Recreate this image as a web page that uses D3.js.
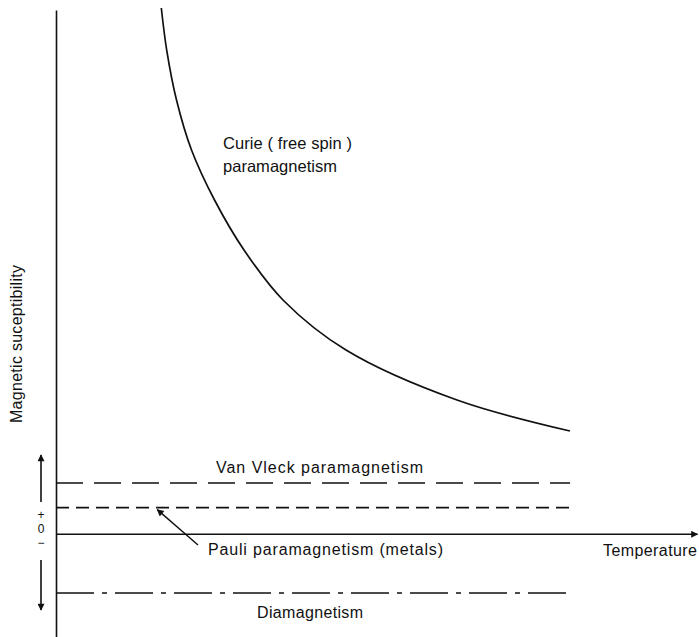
<!DOCTYPE html>
<html>
<head>
<meta charset="utf-8">
<script src="https://cdn.jsdelivr.net/npm/d3@7"></script>
<style>
  html, body { margin: 0; padding: 0; background: #fff; }
  svg { display: block; }
  text { font-family: "Liberation Sans", Arial, sans-serif; fill: #111; }
</style>
</head>
<body>
<svg id="chart" width="699" height="637"></svg>
<script>
// Curie (free spin) paramagnetism: susceptibility falls off roughly as 1/T
const curieT   = [16.43, 17.27, 18.80, 21.14, 24.73, 29.33, 35.41, 45.24, 62.56, 80.19];
const curieChi = [100.38, 92.36, 82.82, 73.27, 63.73, 54.18, 44.64, 35.09, 25.54, 19.62];

// Temperature-independent contributions (constant levels)
const levelNames  = ["Van Vleck paramagnetism", "Pauli paramagnetism (metals)", "Diamagnetism"];
const levelValues = [9.7, 5.0, -11.3];
const levelDashes = ["27,11", "13,7", "38,8,5,8"];
const levelTStart = 0;
const levelTEnd   = 80.2;

// Axis extents
const tDomain   = [0, 100];
const chiDomain = [-19.7, 100];
const axisTitles = ["Temperature", "Magnetic suceptibility"];
const signLabels = ["+", "0", "\u2212"];

const svg = d3.select("#chart");
const x = d3.scaleLinear().domain(tDomain).range([56, 697]);
const y = d3.scaleLinear().domain(chiDomain).range([637, 10]);
const ink = "#111";
const sw = 1.6;

// arrow head marker
const defs = svg.append("defs");
defs.append("marker")
  .attr("id", "head")
  .attr("viewBox", "0 0 10 10")
  .attr("refX", 9).attr("refY", 5)
  .attr("markerUnits", "userSpaceOnUse")
  .attr("markerWidth", 9).attr("markerHeight", 7)
  .attr("orient", "auto")
  .append("path").attr("d", "M0,0L10,5L0,10Z").attr("fill", ink);

// vertical (susceptibility) axis, no ticks
const yAxis = svg.append("g")
  .attr("transform", `translate(${x(0)},0)`)
  .call(d3.axisLeft(y).tickValues([]).tickSizeOuter(0));
yAxis.select(".domain").attr("stroke", ink).attr("stroke-width", sw);

// horizontal (temperature) axis at zero susceptibility, with arrow
const xAxis = svg.append("g")
  .attr("transform", `translate(0,${y(0)})`)
  .call(d3.axisBottom(x).tickValues([]).tickSizeOuter(0));
xAxis.select(".domain").attr("stroke", ink).attr("stroke-width", sw)
  .attr("marker-end", "url(#head)");

// constant levels
const lineGen = d3.line().x(d => x(d[0])).y(d => y(d[1]));
levelValues.forEach((v, i) => {
  svg.append("path")
    .attr("d", lineGen([[levelTStart, v], [levelTEnd, v]]))
    .attr("fill", "none")
    .attr("stroke", ink)
    .attr("stroke-width", sw)
    .attr("stroke-dasharray", levelDashes[i]);
});

// Curie curve
const curieData = curieT.map((t, i) => [t, curieChi[i]]);
svg.append("path")
  .attr("d", d3.line().x(d => x(d[0])).y(d => y(d[1])).curve(d3.curveCatmullRom.alpha(0.5))(curieData))
  .attr("fill", "none")
  .attr("stroke", ink)
  .attr("stroke-width", 1.7);

// labels
function label(txt, px, py, size, len) {
  return svg.append("text")
    .attr("x", px).attr("y", py)
    .attr("font-size", size)
    .attr("textLength", len)
    .attr("lengthAdjust", "spacing")
    .text(txt);
}
label("Curie ( free spin )", 223, 149, 16.5, 129);
label("paramagnetism", 223, 172, 16.5, 114);
label(levelNames[0], 216, 473, 16, 207);
label(levelNames[1], 208, 555, 16, 235);
label(levelNames[2], 257, 618, 16, 106);
label(axisTitles[0], 603, 556, 16, 94);

// vertical axis title
svg.append("text")
  .attr("transform", `translate(22,${(265 + 423) / 2}) rotate(-90)`)
  .attr("text-anchor", "middle")
  .attr("font-size", 16)
  .attr("textLength", 158)
  .attr("lengthAdjust", "spacing")
  .text(axisTitles[1]);

// pointer from the Pauli label to its line
svg.append("line")
  .attr("x1", 198).attr("y1", 545)
  .attr("x2", x(15.8)).attr("y2", y(levelValues[1]) + 2)
  .attr("stroke", ink).attr("stroke-width", 1.4)
  .attr("marker-end", "url(#head)");

// sign indicator on the susceptibility axis: up arrow, + 0 −, down arrow
const sx = 41;
svg.append("line")
  .attr("x1", sx).attr("y1", 502).attr("x2", sx).attr("y2", 455)
  .attr("stroke", ink).attr("stroke-width", sw).attr("marker-end", "url(#head)");
svg.append("line")
  .attr("x1", sx).attr("y1", 560).attr("x2", sx).attr("y2", 610)
  .attr("stroke", ink).attr("stroke-width", sw).attr("marker-end", "url(#head)");
const signY = [519, 533, 547];
signLabels.forEach((s, i) => {
  svg.append("text")
    .attr("x", sx).attr("y", signY[i])
    .attr("text-anchor", "middle")
    .attr("font-size", 12)
    .text(s);
});
</script>
</body>
</html>
